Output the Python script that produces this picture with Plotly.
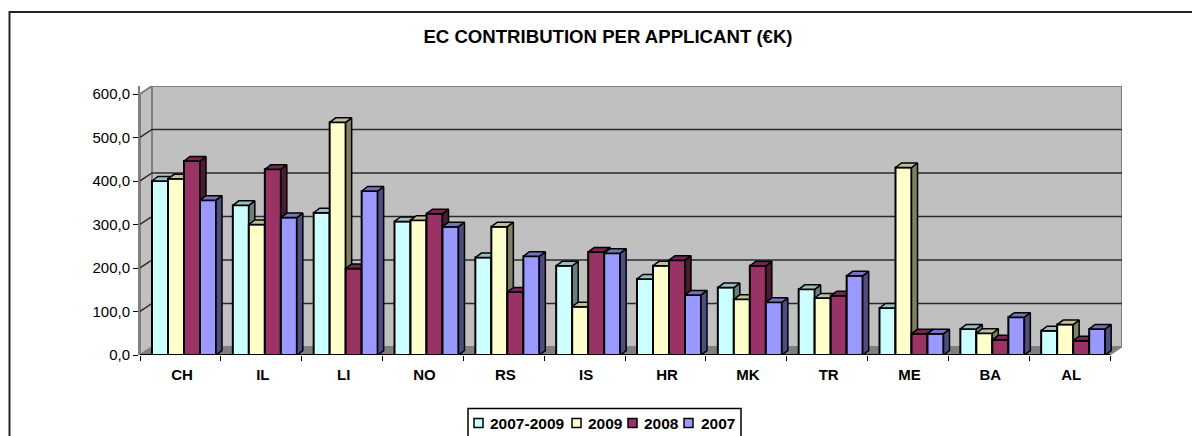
"""
EC contribution per applicant, drawn as an Excel style 3D clustered bar chart
Real bars for the fronts, overlaid axes so each series paints over the one before
"""

import plotly.graph_objects as go

categories = ["CH", "IL", "LI", "NO", "RS", "IS", "HR", "MK", "TR", "ME", "BA", "AL"]
y_ticks = [0, 100, 200, 300, 400, 500, 600]
y_tick_labels = ["0,0", "100,0", "200,0", "300,0", "400,0", "500,0", "600,0"]

series_names = ["2007-2009", "2009", "2008", "2007"]
values_all = [400, 344, 327, 307, 224, 205, 175, 155, 151, 108, 60, 56]
values_2009 = [405, 300, 535, 310, 295, 111, 205, 128, 131, 431, 50, 70]
values_2008 = [446, 427, 199, 325, 145, 237, 218, 205, 136, 49, 35, 33]
values_2007 = [356, 316, 377, 295, 227, 234, 138, 121, 182, 49, 87, 60]
series_values = [values_all, values_2009, values_2008, values_2007]

front_colors = ["#CCFFFF", "#FFFFCC", "#993366", "#9999FF"]
top_colors = ["#99BFBF", "#BFBF99", "#732650", "#7373BF"]
side_colors = ["#668080", "#808066", "#4D1A33", "#4D4D80"]

# pixel geometry of the plot, converted to data units below
WIDTH, HEIGHT = 1192, 436
LEFT, RIGHT, FRONT_Y, TOP_Y = 140, 1122, 355, 86
CAT_PX = 80.83
UNIT_PX = 0.435
WALL_DX = 12 / CAT_PX
WALL_DY = 8 / UNIT_PX
BAR_DX = 6 / CAT_PX
BAR_DY = 4.5 / UNIT_PX
BAR_W = 16 / CAT_PX
BAR_START = 12 / CAT_PX

X_RANGE = [0, len(categories) + WALL_DX]
Y_RANGE = [0, 600 + WALL_DY]

# the native legend cannot get swatches this tight, so it is built by hand
legend_swatch_px = [474, 572, 628, 684]
legend_text_px = [489, 587, 643, 700]


def polygons(shapes):
    """Join polygons into one x/y pair, separated by None"""
    xs, ys = [], []
    for shape in shapes:
        xs += [p[0] for p in shape] + [shape[0][0], None]
        ys += [p[1] for p in shape] + [shape[0][1], None]
    return xs, ys


def paper_x(px):
    return px / WIDTH


def paper_y(px):
    return (HEIGHT - px) / HEIGHT


fig = go.Figure()

# walls and floor on the base axes
end = len(categories)
fig.add_trace(go.Scatter(
    x=[WALL_DX, X_RANGE[1], X_RANGE[1], WALL_DX, WALL_DX],
    y=[WALL_DY, WALL_DY, Y_RANGE[1], Y_RANGE[1], WALL_DY],
    fill="toself", fillcolor="#C0C0C0", mode="lines",
    line=dict(color="#808080", width=2), showlegend=False, hoverinfo="skip"))
fig.add_trace(go.Scatter(
    x=[0, WALL_DX, WALL_DX, 0, 0],
    y=[0, WALL_DY, Y_RANGE[1], 600, 0],
    fill="toself", fillcolor="#C0C0C0", mode="lines",
    line=dict(color="#808080", width=2), showlegend=False, hoverinfo="skip"))
fig.add_trace(go.Scatter(
    x=[0, WALL_DX, X_RANGE[1], end, 0],
    y=[0, WALL_DY, WALL_DY, 0, 0],
    fill="toself", fillcolor="#808080", mode="lines",
    line=dict(color="#808080", width=1), showlegend=False, hoverinfo="skip"))

# gridlines run up the side wall then along the back wall
grid_x, grid_y = [], []
for tick in y_ticks[1:-1]:
    grid_x += [0, WALL_DX, X_RANGE[1], None]
    grid_y += [tick, tick + WALL_DY, tick + WALL_DY, None]
fig.add_trace(go.Scatter(
    x=grid_x, y=grid_y, mode="lines",
    line=dict(color="#2A2A2A", width=1.5), showlegend=False, hoverinfo="skip"))

for k, name in enumerate(series_names):
    axis_id = k + 2
    xs = [i + BAR_START + BAR_W * (k + 0.5) for i in range(len(categories))]
    sides, tops = [], []
    for x, v in zip(xs, series_values[k]):
        xl, xr = x - BAR_W / 2, x + BAR_W / 2
        sides.append([(xr, 0), (xr + BAR_DX, BAR_DY), (xr + BAR_DX, v + BAR_DY), (xr, v)])
        tops.append([(xl, v), (xl + BAR_DX, v + BAR_DY), (xr + BAR_DX, v + BAR_DY), (xr, v)])

    fig.add_trace(go.Bar(
        x=xs, y=series_values[k], width=BAR_W, name=name, showlegend=False,
        marker=dict(color=front_colors[k], line=dict(color="black", width=2)),
        customdata=categories,
        hovertemplate="%{customdata}: %{y}<extra>" + name + "</extra>",
        xaxis=f"x{axis_id}", yaxis=f"y{axis_id}"))

    side_x, side_y = polygons(sides)
    fig.add_trace(go.Scatter(
        x=side_x, y=side_y, fill="toself", fillcolor=side_colors[k], mode="lines",
        line=dict(color="black", width=1.5), showlegend=False, hoverinfo="skip",
        xaxis=f"x{axis_id}", yaxis=f"y{axis_id}"))
    top_x, top_y = polygons(tops)
    fig.add_trace(go.Scatter(
        x=top_x, y=top_y, fill="toself", fillcolor=top_colors[k], mode="lines",
        line=dict(color="black", width=1.5), showlegend=False, hoverinfo="skip",
        xaxis=f"x{axis_id}", yaxis=f"y{axis_id}"))

x_domain = [paper_x(LEFT), paper_x(RIGHT)]
y_domain = [paper_y(FRONT_Y), paper_y(TOP_Y)]

overlay_axes = {}
for axis_id in range(2, 6):
    overlay_axes[f"xaxis{axis_id}"] = dict(
        overlaying="x", domain=x_domain, range=X_RANGE, visible=False,
        anchor=f"y{axis_id}", automargin=False)
    overlay_axes[f"yaxis{axis_id}"] = dict(
        overlaying="y", domain=y_domain, range=Y_RANGE, visible=False,
        anchor=f"x{axis_id}", automargin=False)

# category names sit on the first series axis, boundary ticks on the base axis
overlay_axes["xaxis2"].update(
    visible=True, showgrid=False, zeroline=False, showline=False, ticks="",
    tickmode="array", tickvals=[i + 0.52 for i in range(len(categories))],
    ticktext=categories, ticklabelstandoff=9,
    tickfont=dict(family="Liberation Sans", size=15, color="black", weight="bold"))

# outer frame runs off the page on the right and bottom, as in the source
shapes = [
    dict(type="rect", xref="paper", yref="paper", x0=paper_x(9.5), x1=1.02,
         y0=-0.1, y1=paper_y(12), line=dict(color="#222222", width=2)),
    dict(type="rect", xref="paper", yref="paper", x0=paper_x(468), x1=paper_x(741),
         y0=-0.05, y1=paper_y(408.5), line=dict(color="black", width=1.5),
         fillcolor="white"),
    dict(type="line", xref="x", yref="y", x0=0, x1=end, y0=0, y1=0,
         line=dict(color="black", width=2)),
]
annotations = []
for k, name in enumerate(series_names):
    shapes.append(dict(
        type="rect", xref="paper", yref="paper",
        x0=paper_x(legend_swatch_px[k]), x1=paper_x(legend_swatch_px[k] + 9),
        y0=paper_y(427.5), y1=paper_y(418.5),
        fillcolor=front_colors[k], line=dict(color="black", width=1.5)))
    annotations.append(dict(
        text=f"<b>{name}</b>", xref="paper", yref="paper", showarrow=False,
        x=paper_x(legend_text_px[k]), xanchor="left", xshift=-1,
        y=paper_y(423), yanchor="middle",
        font=dict(family="Liberation Sans", size=15.5, color="black")))

fig.update_layout(
    width=WIDTH, height=HEIGHT, autosize=False,
    margin=dict(l=0, r=0, t=0, b=0),
    paper_bgcolor="white", plot_bgcolor="white",
    barmode="overlay", showlegend=False,
    font=dict(family="Liberation Sans", size=15, color="black"),
    xaxis=dict(
        domain=x_domain, range=X_RANGE, showgrid=False, zeroline=False, automargin=False,
        tickmode="array", tickvals=list(range(len(categories) + 1)), ticktext=[""] * 13,
        ticks="outside", ticklen=5, tickwidth=1, tickcolor="black",
        showline=False),
    yaxis=dict(
        domain=y_domain, range=Y_RANGE, showgrid=False, zeroline=False, automargin=False,
        tickmode="array", tickvals=y_ticks, ticktext=y_tick_labels,
        ticks="outside", ticklen=5, tickwidth=1, tickcolor="black",
        showline=True, linecolor="#808080", linewidth=2),
    title=dict(
        text="<b>EC CONTRIBUTION PER APPLICANT (€K)</b>",
        x=paper_x(608), xanchor="center", y=paper_y(36), yanchor="middle",
        font=dict(family="Liberation Sans", size=18.6, color="black")),
    shapes=shapes,
    annotations=annotations,
    **overlay_axes)

fig.write_html("out.html", config={"displayModeBar": False},
               post_script="document.body.style.margin='0';")
